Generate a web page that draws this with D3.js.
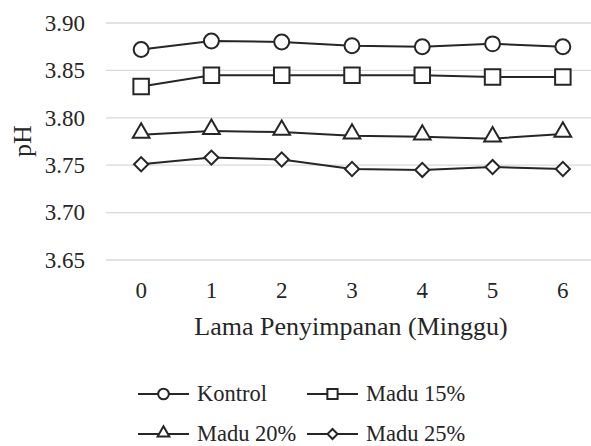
<!DOCTYPE html>
<html>
<head>
<meta charset="utf-8">
<script src="https://cdn.jsdelivr.net/npm/d3@7"></script>
<style>
  body { margin: 0; background: #fff; }
</style>
</head>
<body>
<div id="chart"></div>
<script>
// data
const weeks = ["0", "1", "2", "3", "4", "5", "6"];
const kontrol = [3.872, 3.881, 3.880, 3.876, 3.875, 3.878, 3.875];
const madu15 = [3.833, 3.845, 3.845, 3.845, 3.845, 3.843, 3.843];
const madu20 = [3.782, 3.786, 3.785, 3.781, 3.780, 3.778, 3.783];
const madu25 = [3.751, 3.758, 3.756, 3.746, 3.745, 3.748, 3.746];
const seriesNames = ["Kontrol", "Madu 15%", "Madu 20%", "Madu 25%"];
const yTicks = [3.65, 3.70, 3.75, 3.80, 3.85, 3.90];

const width = 591, height = 446;
const ink = "#262626";
const font = "Liberation Serif";

const svg = d3.select("#chart").append("svg")
  .attr("width", width)
  .attr("height", height)
  .attr("font-family", font)
  .style("display", "block");

const x = d3.scaleBand()
  .domain(weeks)
  .range([106, 598]);

const y = d3.scaleLinear()
  .domain([3.65, 3.90])
  .range([260, 23]);

// gridlines
svg.append("g")
  .selectAll("line")
  .data(yTicks)
  .enter().append("line")
    .attr("x1", 106)
    .attr("x2", 598)
    .attr("y1", d => y(d))
    .attr("y2", d => y(d))
    .attr("stroke", "#d9d9d9")
    .attr("stroke-width", 1.3);

// y axis
const yAxis = svg.append("g")
  .attr("transform", "translate(85,0)")
  .call(d3.axisLeft(y).tickValues(yTicks).tickFormat(d3.format(".2f")).tickSize(0).tickPadding(0));
yAxis.attr("font-family", font);
yAxis.select(".domain").remove();
yAxis.selectAll("text")
  .attr("font-size", 23)
  .attr("fill", ink);

// x axis
const xAxis = svg.append("g")
  .attr("transform", "translate(0,281.5)")
  .call(d3.axisBottom(x).tickSize(0).tickPadding(0));
xAxis.attr("font-family", font);
xAxis.select(".domain").remove();
xAxis.selectAll("text")
  .attr("font-size", 23)
  .attr("fill", ink);

// axis titles
svg.append("text")
  .attr("x", 351)
  .attr("y", 335)
  .attr("text-anchor", "middle")
  .attr("font-size", 26)
  .attr("fill", ink)
  .text("Lama Penyimpanan (Minggu)");

svg.append("text")
  .attr("transform", "translate(31,141) rotate(-90)")
  .attr("text-anchor", "middle")
  .attr("font-size", 26)
  .attr("fill", ink)
  .text("pH");

// markers (diamond = square turned 45 degrees)
const symbols = [d3.symbolCircle, d3.symbolSquare, d3.symbolTriangle, d3.symbolSquare];
const turn = [0, 0, 0, 45];
const plotSizes = [175, 240, 120, 100];
const legendSizes = [90, 105, 60, 50];
const allSeries = [kontrol, madu15, madu20, madu25];

const line = d3.line()
  .x((d, i) => x(weeks[i]) + x.bandwidth() / 2)
  .y(d => y(d));

allSeries.forEach((vals, k) => {
  svg.append("path")
    .datum(vals)
    .attr("d", line)
    .attr("fill", "none")
    .attr("stroke", ink)
    .attr("stroke-width", 2);

  svg.append("g")
    .selectAll("path")
    .data(vals)
    .enter().append("path")
      .attr("transform", (d, i) => "translate(" + (x(weeks[i]) + x.bandwidth() / 2) + "," + (y(d) + (k == 2 ? -2 : 0)) + ") rotate(" + turn[k] + ")")
      .attr("d", d3.symbol().type(symbols[k]).size(plotSizes[k]))
      .attr("fill", "#fff")
      .attr("stroke", ink)
      .attr("stroke-width", 2);
});

// legend
const legPos = [[138, 394], [307, 394], [138, 434], [307, 434]];
seriesNames.forEach((name, k) => {
  const lx = legPos[k][0], ly = legPos[k][1];
  const g = svg.append("g").attr("transform", "translate(" + lx + "," + ly + ")");
  g.append("line")
    .attr("x1", 0).attr("x2", 51)
    .attr("y1", 0).attr("y2", 0)
    .attr("stroke", ink)
    .attr("stroke-width", 2);
  g.append("path")
    .attr("transform", "translate(25.5," + (k == 2 ? -1 : 0) + ") rotate(" + turn[k] + ")")
    .attr("d", d3.symbol().type(symbols[k]).size(legendSizes[k]))
    .attr("fill", "#fff")
    .attr("stroke", ink)
    .attr("stroke-width", 2);
  g.append("text")
    .attr("x", 59)
    .attr("y", 0)
    .attr("dy", "0.32em")
    .attr("font-size", 22.5)
    .attr("fill", ink)
    .text(name);
});
</script>
</body>
</html>
